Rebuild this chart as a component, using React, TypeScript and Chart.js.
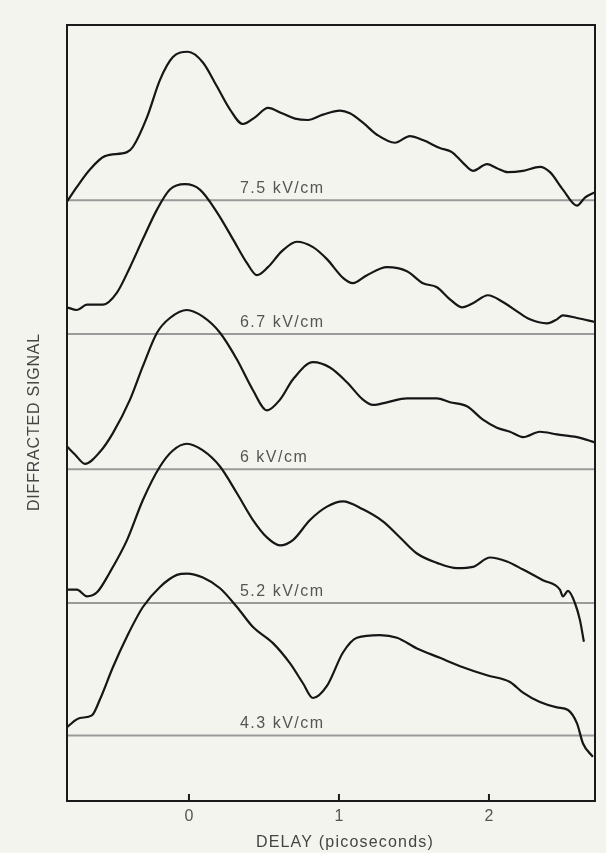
import React, { useEffect, useRef } from "react";
import { Chart, registerables } from "chart.js";

Chart.register(...registerables);

// ---- data ----
const xTicks = [0, 1, 2];
const xMin = -0.813;
const xMax = 2.707;
const yMin = 0;
const yMax = 5.8;

const fieldLabels = ["7.5 kV/cm", "6.7 kV/cm", "6 kV/cm", "5.2 kV/cm", "4.3 kV/cm"];
const baselines = [4.49, 3.49, 2.48, 1.48, 0.49];

const delay75 = [-0.813, -0.747, -0.66, -0.56, -0.413, -0.373, -0.28, -0.193, -0.107, -0.007, 0.093, 0.187, 0.273, 0.36, 0.44, 0.527, 0.62, 0.707, 0.793, 0.893, 1.007, 1.073, 1.16, 1.253, 1.373, 1.473, 1.56, 1.673, 1.753, 1.827, 1.893, 1.987, 2.053, 2.127, 2.227, 2.34, 2.407, 2.493, 2.587, 2.64, 2.707];
const signal75 = [4.48, 4.59, 4.72, 4.82, 4.85, 4.89, 5.11, 5.39, 5.56, 5.6, 5.52, 5.34, 5.17, 5.06, 5.11, 5.18, 5.14, 5.1, 5.09, 5.13, 5.16, 5.14, 5.07, 4.98, 4.92, 4.97, 4.94, 4.88, 4.85, 4.77, 4.71, 4.76, 4.73, 4.7, 4.71, 4.74, 4.7, 4.57, 4.45, 4.51, 4.55];

const delay67 = [-0.813, -0.747, -0.68, -0.573, -0.48, -0.393, -0.307, -0.213, -0.127, -0.027, 0.073, 0.187, 0.293, 0.387, 0.453, 0.527, 0.62, 0.72, 0.827, 0.92, 1.027, 1.093, 1.187, 1.32, 1.453, 1.56, 1.653, 1.74, 1.82, 1.893, 1.993, 2.093, 2.187, 2.273, 2.387, 2.453, 2.493, 2.587, 2.707];
const signal67 = [3.69, 3.67, 3.71, 3.71, 3.8, 3.99, 4.2, 4.42, 4.57, 4.61, 4.57, 4.4, 4.2, 4.02, 3.93, 3.99, 4.11, 4.18, 4.14, 4.05, 3.91, 3.87, 3.93, 3.99, 3.96, 3.87, 3.84, 3.75, 3.69, 3.72, 3.78, 3.73, 3.66, 3.6, 3.57, 3.6, 3.63, 3.61, 3.58];

const delay60 = [-0.813, -0.76, -0.693, -0.593, -0.507, -0.393, -0.307, -0.213, -0.127, -0.013, 0.093, 0.207, 0.32, 0.427, 0.52, 0.607, 0.693, 0.827, 0.94, 1.053, 1.16, 1.227, 1.32, 1.453, 1.653, 1.74, 1.853, 1.96, 2.053, 2.14, 2.227, 2.34, 2.453, 2.587, 2.707];
const signal60 = [2.65, 2.59, 2.52, 2.61, 2.75, 3.0, 3.25, 3.5, 3.61, 3.67, 3.62, 3.5, 3.3, 3.07, 2.92, 3.0, 3.15, 3.28, 3.24, 3.13, 3.0, 2.96, 2.98, 3.01, 3.01, 2.98, 2.95, 2.85, 2.79, 2.76, 2.72, 2.76, 2.74, 2.72, 2.68];

const delay52 = [-0.813, -0.747, -0.68, -0.613, -0.527, -0.413, -0.307, -0.193, -0.107, -0.013, 0.093, 0.207, 0.32, 0.427, 0.52, 0.607, 0.693, 0.807, 0.92, 1.027, 1.16, 1.293, 1.407, 1.52, 1.653, 1.787, 1.893, 2.007, 2.12, 2.227, 2.36, 2.473, 2.493, 2.527, 2.573, 2.607, 2.633];
const signal52 = [1.58, 1.58, 1.53, 1.56, 1.71, 1.95, 2.25, 2.5, 2.62, 2.67, 2.62, 2.5, 2.3, 2.1, 1.97, 1.91, 1.95, 2.1, 2.2, 2.24, 2.18, 2.09, 1.97, 1.85, 1.78, 1.74, 1.75, 1.82, 1.79, 1.73, 1.65, 1.58, 1.53, 1.57, 1.48, 1.35, 1.19];

const delay43 = [-0.813, -0.773, -0.727, -0.647, -0.593, -0.507, -0.413, -0.307, -0.193, -0.08, -0.013, 0.093, 0.207, 0.32, 0.427, 0.56, 0.673, 0.76, 0.827, 0.92, 1.027, 1.12, 1.273, 1.387, 1.52, 1.673, 1.827, 1.987, 2.14, 2.227, 2.34, 2.453, 2.527, 2.587, 2.627, 2.693];
const signal43 = [0.55, 0.59, 0.62, 0.64, 0.76, 1.0, 1.23, 1.45, 1.6, 1.69, 1.7, 1.67, 1.59, 1.45, 1.3, 1.18, 1.03, 0.88, 0.77, 0.86, 1.11, 1.22, 1.24, 1.22, 1.14, 1.07, 1.0, 0.94, 0.89, 0.81, 0.74, 0.7, 0.68, 0.58, 0.43, 0.33];

const curves = [
  [delay75, signal75],
  [delay67, signal67],
  [delay60, signal60],
  [delay52, signal52],
  [delay43, signal43],
];

const FONT = "'Liberation Sans', Arial, Helvetica, sans-serif";
const BG = "#f4f4ef";

const decorPlugin = {
  id: "decor",
  afterDraw(chart: any) {
    const { ctx, chartArea, scales } = chart;
    const { left, right, top, bottom } = chartArea;
    const xs = scales.x;
    const ys = scales.y;
    ctx.save();
    // frame
    ctx.strokeStyle = "#1a1a1a";
    ctx.lineWidth = 2;
    ctx.strokeRect(left, top, right - left, bottom - top);
    // inward tick marks
    xTicks.forEach((v) => {
      const px = xs.getPixelForValue(v);
      ctx.beginPath();
      ctx.moveTo(px, bottom);
      ctx.lineTo(px, bottom - 7);
      ctx.stroke();
    });
    // field labels
    ctx.fillStyle = "#555";
    ctx.font = `16px ${FONT}`;
    (ctx as any).letterSpacing = "1.5px";
    ctx.textAlign = "left";
    ctx.textBaseline = "alphabetic";
    fieldLabels.forEach((t, i) => {
      const py = ys.getPixelForValue(baselines[i]);
      ctx.fillText(t, xs.getPixelForValue(0.34), py - 7);
    });
    // x title
    (ctx as any).letterSpacing = "1.2px";
    ctx.fillStyle = "#444";
    ctx.textAlign = "center";
    ctx.textBaseline = "middle";
    ctx.fillText("DELAY (picoseconds)", xs.getPixelForValue(1.04), bottom + 42);
    // y title
    (ctx as any).letterSpacing = "0.8px";
    ctx.translate(left - 32, (top + bottom) / 2 + 9);
    ctx.rotate(-Math.PI / 2);
    ctx.fillText("DIFFRACTED SIGNAL", 0, 0);
    ctx.restore();
  },
};

export default function App() {
  const ref = useRef<HTMLCanvasElement | null>(null);
  useEffect(() => {
    if (!ref.current) return;
    const datasets: any[] = [];
    curves.forEach(([xsArr, ysArr]) => {
      datasets.push({
        data: xsArr.map((x, i) => ({ x, y: ysArr[i] })),
        borderColor: "#161616",
        borderWidth: 2.2,
        pointRadius: 0,
        cubicInterpolationMode: "monotone",
        fill: false,
      });
    });
    baselines.forEach((b) => {
      datasets.push({
        data: [
          { x: xMin, y: b },
          { x: xMax, y: b },
        ],
        borderColor: "#9a9a9a",
        borderWidth: 2,
        pointRadius: 0,
        fill: false,
      });
    });
    const chart = new Chart(ref.current, {
      type: "line",
      data: { datasets },
      options: {
        responsive: false,
        animation: false,
        layout: { padding: { left: 67, right: 11, top: 25, bottom: 0 } },
        plugins: { legend: { display: false }, tooltip: { enabled: false } },
        scales: {
          x: {
            type: "linear",
            min: xMin,
            max: xMax,
            afterBuildTicks: (s: any) => {
              s.ticks = xTicks.map((v) => ({ value: v }));
            },
            afterFit: (s: any) => {
              s.height = 52;
            },
            grid: { display: false, drawTicks: false },
            border: { display: false },
            ticks: {
              font: { family: FONT, size: 16 },
              color: "#555",
              padding: 6,
              callback: (v: any) => String(v),
            },
          },
          y: { type: "linear", display: false, min: yMin, max: yMax },
        },
      },
      plugins: [decorPlugin],
    });
    return () => chart.destroy();
  }, []);
  return (
    <div style={{ position: "fixed", left: 0, top: 0, width: 606, height: 853, background: BG }}>
      <canvas ref={ref} width={606} height={853} style={{ display: "block" }} />
    </div>
  );
}
